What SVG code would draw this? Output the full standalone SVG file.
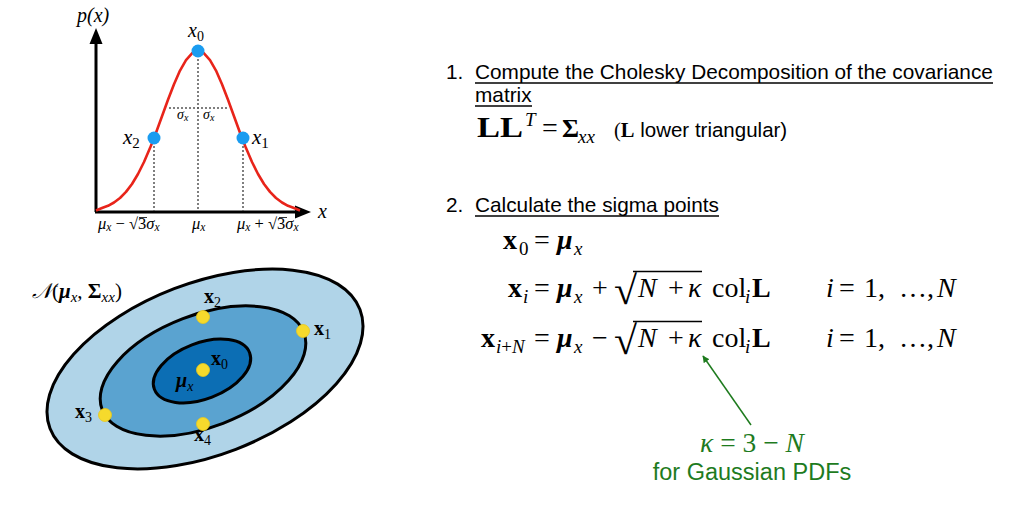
<svg xmlns="http://www.w3.org/2000/svg" width="1030" height="514" viewBox="0 0 1030 514">
<style>
.sans{font-family:"Liberation Sans",Arial,sans-serif;fill:#000}
.ser{font-family:"Liberation Serif","Times New Roman",serif;fill:#000}
.it{font-style:italic}
.b{font-weight:bold}
.dot{stroke:#555;stroke-width:1.5;stroke-dasharray:2 2;fill:none}
.bd{fill:#1a9cf0}
.yd{fill:#f6da2c;stroke:#e8c81c;stroke-width:0.8}
.ell{stroke:#000;stroke-width:3}
.g{fill:#1e7b1e}
.ul{stroke:#000;stroke-width:1.3}
.m{font-family:"Liberation Serif","Times New Roman",serif;fill:#000;font-size:28px}
.s{font-family:"Liberation Serif","Times New Roman",serif;fill:#000;font-size:19px}
.rad{font-family:"Liberation Serif","Times New Roman",serif;fill:#000;font-size:40px}
.vin{stroke:#000;stroke-width:1.5}
</style>
<defs>
<marker id="ga" viewBox="0 0 10 10" refX="9" refY="5" markerWidth="7" markerHeight="7" orient="auto-start-reverse" markerUnits="userSpaceOnUse">
<path d="M0,0 L10,5 L0,10 z" fill="#1e7b1e"/>
</marker>
</defs>
<rect width="1030" height="514" fill="#fff"/>

<!-- PDF plot -->
<g id="pdf-plot">
<line x1="96" y1="212" x2="96" y2="42" stroke="#000" stroke-width="3"/>
<polygon points="96,28 89.5,44 102.5,44" fill="#000"/>
<line x1="95" y1="212" x2="298" y2="212" stroke="#000" stroke-width="3"/>
<polygon points="311,212 295,205.5 295,218.5" fill="#000"/>
<line class="dot" x1="154" y1="138" x2="154" y2="211"/>
<line class="dot" x1="198" y1="51" x2="198" y2="211"/>
<line class="dot" x1="243" y1="138" x2="243" y2="211"/>
<line class="dot" x1="169" y1="108" x2="228" y2="108"/>
<polyline fill="none" stroke="#e8241a" stroke-width="2.6" stroke-linejoin="round" points="96,210.5 102,208 108,205.8 114,202.5 120,198 126,191.9 132,184 138,174 144,162 150,148.1 156,132.7 162,116.3 168,99.8 174,84.2 180,70.6 186,60.05 192,53.3 198,51 204,53.3 210,60.05 216,70.6 222,84.2 228,99.8 234,116.3 240,132.7 246,148.1 252,162 258,174 264,184 270,191.9 276,198 282,202.5 288,205.8 294,208 300,210.5"/>
<circle class="bd" cx="198" cy="51" r="6.5"/>
<circle class="bd" cx="154" cy="138" r="6.5"/>
<circle class="bd" cx="243" cy="138" r="6.5"/>
<text class="ser it" x="77" y="22" font-size="20">p(x)</text>
<text class="ser it" x="188" y="37" font-size="20">x<tspan font-style="normal" font-size="14" dy="4">0</tspan></text>
<text class="ser it" x="123" y="144" font-size="21">x<tspan font-style="normal" font-size="15" dy="4">2</tspan></text>
<text class="ser it" x="252" y="144" font-size="21">x<tspan font-style="normal" font-size="15" dy="4">1</tspan></text>
<text class="ser it" x="318" y="218" font-size="20">x</text>
<text class="ser it" x="177" y="119" font-size="14">σ<tspan font-size="10" dy="2">x</tspan></text>
<text class="ser it" x="203" y="119" font-size="14">σ<tspan font-size="10" dy="2">x</tspan></text>
<text class="ser it" x="98" y="229" font-size="16.5">μ<tspan font-size="11.5" dy="2">x</tspan><tspan font-style="normal" dy="-2"> − √3</tspan>σ<tspan font-size="11.5" dy="2">x</tspan></text>
<line x1="139" y1="217.5" x2="147" y2="217.5" stroke="#000" stroke-width="0.8"/>
<text class="ser it" x="192" y="229" font-size="16.5">μ<tspan font-size="11.5" dy="2">x</tspan></text>
<text class="ser it" x="237" y="229" font-size="16.5">μ<tspan font-size="11.5" dy="2">x</tspan><tspan font-style="normal" dy="-2"> + √3</tspan>σ<tspan font-size="11.5" dy="2">x</tspan></text>
<line x1="279" y1="217.5" x2="287" y2="217.5" stroke="#000" stroke-width="0.8"/>
</g>

<!-- Ellipses -->
<g id="ellipses">
<ellipse class="ell" cx="205" cy="369" rx="166" ry="86" fill="#b0d4e8" transform="rotate(-21 205 369)"/>
<ellipse class="ell" cx="203" cy="371" rx="108" ry="56" fill="#5aa3d0" transform="rotate(-21 203 371)"/>
<ellipse class="ell" cx="202" cy="371" rx="51" ry="28" fill="#0c6eb4" transform="rotate(-21 202 371)"/>
<circle class="yd" cx="203" cy="317" r="6.5"/>
<circle class="yd" cx="303" cy="331" r="6.5"/>
<circle class="yd" cx="203" cy="370" r="6.5"/>
<circle class="yd" cx="105" cy="415" r="6.5"/>
<circle class="yd" cx="203" cy="424" r="6.5"/>
<text class="ser" x="32" y="298" font-size="21"><tspan class="it">𝒩</tspan>(<tspan class="b it">μ</tspan><tspan class="it" font-size="15" dy="4">x</tspan><tspan dy="-4">, </tspan><tspan class="b">Σ</tspan><tspan class="it" font-size="15" dy="4">xx</tspan><tspan dy="-4">)</tspan></text>
<text class="ser b" x="204" y="303" font-size="20">x<tspan font-weight="normal" font-size="14" dy="4">2</tspan></text>
<text class="ser b" x="314" y="335" font-size="20">x<tspan font-weight="normal" font-size="14" dy="4">1</tspan></text>
<text class="ser b" x="211" y="365" font-size="20">x<tspan font-weight="normal" font-size="14" dy="4">0</tspan></text>
<text class="ser b it" x="176" y="387" font-size="20">μ<tspan font-weight="normal" font-size="14" dy="4">x</tspan></text>
<text class="ser b" x="75" y="418" font-size="20">x<tspan font-weight="normal" font-size="14" dy="4">3</tspan></text>
<text class="ser b" x="194" y="441" font-size="20">x<tspan font-weight="normal" font-size="14" dy="4">4</tspan></text>
</g>

<!-- Step 1 -->
<g id="step1">
<text class="sans" x="446" y="79" font-size="20.8">1.</text>
<text class="sans" x="475" y="79" font-size="20.8">Compute the Cholesky Decomposition of the covariance</text>
<line class="ul" x1="475" y1="83" x2="993" y2="83"/>
<text class="sans" x="475" y="102" font-size="20.8">matrix</text>
<line class="ul" x1="475" y1="106" x2="532" y2="106"/>
<text class="ser b" x="477" y="137" font-size="29" textLength="46" lengthAdjust="spacingAndGlyphs">LL</text>
<text class="s it" x="525" y="126">T</text>
<text class="m" x="542" y="137">=</text>
<text class="ser b" x="562" y="137" font-size="26">Σ</text>
<text class="s it" x="578" y="143">xx</text>
<text class="ser" x="614" y="137" font-size="20.5">(<tspan font-weight="bold">L</tspan><tspan class="sans"> lower triangular)</tspan></text>
</g>

<!-- Step 2 -->
<g id="step2">
<text class="sans" x="446" y="212" font-size="20.8">2.</text>
<text class="sans" x="475" y="212" font-size="20.8">Calculate the sigma points</text>
<line class="ul" x1="475" y1="216" x2="719" y2="216"/>

<!-- line 1 -->
<text class="m b" x="503" y="249">x</text>
<text class="s" x="519" y="255">0</text>
<text class="m" x="534" y="249">=</text>
<text class="m b it" x="557" y="249">μ</text>
<text class="s it" x="574" y="255">x</text>

<!-- line 2 -->
<text class="m b" x="508" y="297">x</text>
<text class="s it" x="523" y="303">i</text>
<text class="m" x="534" y="297">=</text>
<text class="m b it" x="557" y="297">μ</text>
<text class="s it" x="574" y="297" dy="6">x</text>
<text class="m" x="592" y="297">+</text>
<text class="rad" x="614" y="304" textLength="23" lengthAdjust="spacingAndGlyphs">√</text>
<line class="vin" x1="633" y1="271.5" x2="702" y2="271.5"/>
<text class="m it" x="638" y="297">N</text>
<text class="m" x="668" y="297">+</text>
<text class="m it" x="688" y="297">κ</text>
<text class="m" x="712" y="297">col</text>
<text class="s it" x="745" y="303">i</text>
<text class="m b" x="752" y="297">L</text>
<text class="m it" x="826" y="297">i</text>
<text class="m" x="839" y="297">=</text>
<text class="m" x="864" y="297">1,</text>
<text class="m" x="899" y="297">…,</text>
<text class="m it" x="937" y="297">N</text>

<!-- line 3 -->
<text class="m b" x="481" y="347">x</text>
<text class="s it" x="496" y="353">i<tspan font-style="normal">+</tspan>N</text>
<text class="m" x="534" y="347">=</text>
<text class="m b it" x="557" y="347">μ</text>
<text class="s it" x="574" y="353">x</text>
<text class="m" x="592" y="347">−</text>
<text class="rad" x="614" y="354" textLength="23" lengthAdjust="spacingAndGlyphs">√</text>
<line class="vin" x1="633" y1="321.5" x2="702" y2="321.5"/>
<text class="m it" x="638" y="347">N</text>
<text class="m" x="668" y="347">+</text>
<text class="m it" x="688" y="347">κ</text>
<text class="m" x="712" y="347">col</text>
<text class="s it" x="745" y="353">i</text>
<text class="m b" x="752" y="347">L</text>
<text class="m it" x="826" y="347">i</text>
<text class="m" x="839" y="347">=</text>
<text class="m" x="864" y="347">1,</text>
<text class="m" x="899" y="347">…,</text>
<text class="m it" x="937" y="347">N</text>
</g>

<!-- Annotation -->
<g id="kappa-note">
<text class="ser g it" x="752" y="452" font-size="27.5" text-anchor="middle">κ <tspan font-style="normal">= 3 −</tspan> N</text>
<text class="sans g" x="752" y="480" font-size="23.5" text-anchor="middle">for Gaussian PDFs</text>
</g>
<g id="connectors">
<line x1="751" y1="425" x2="703" y2="356" stroke="#1e7b1e" stroke-width="1.5" marker-end="url(#ga)"/>
</g>
</svg>
